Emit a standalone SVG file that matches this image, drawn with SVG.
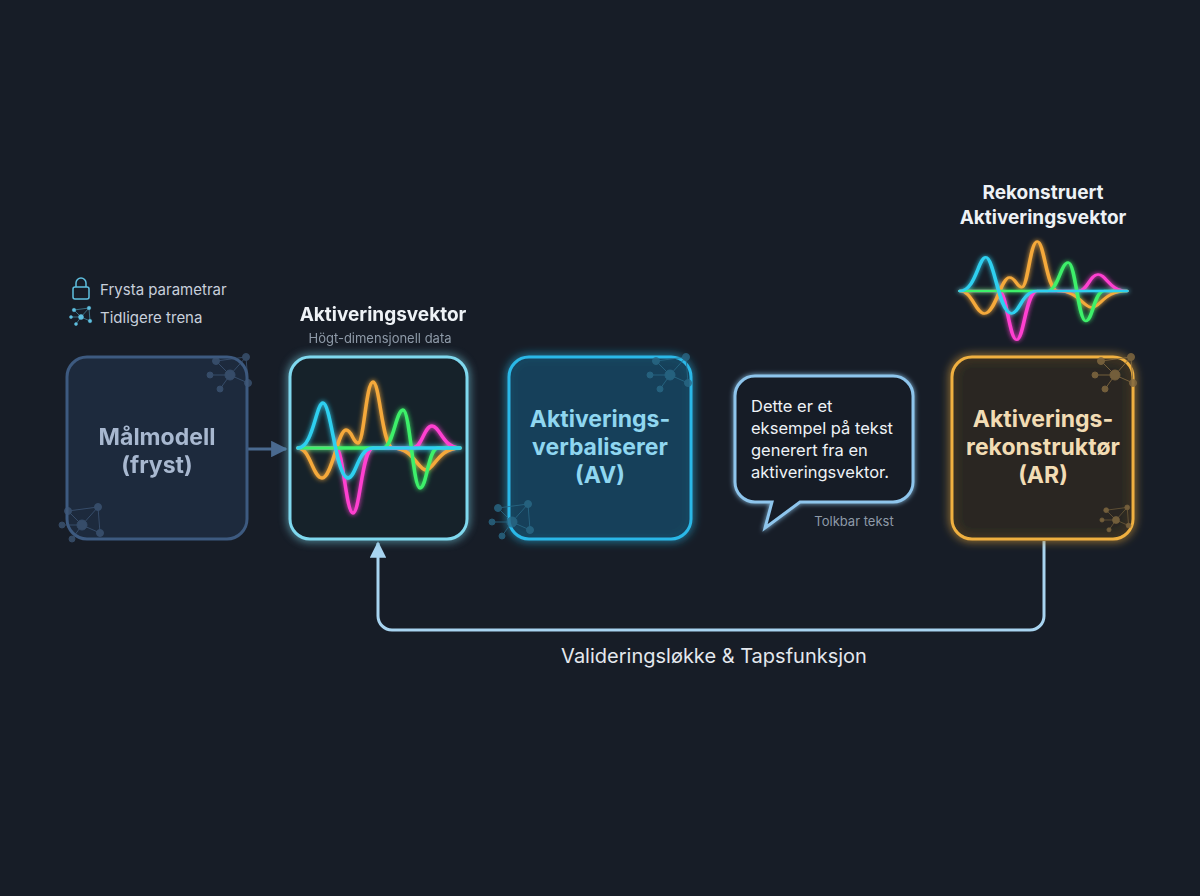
<svg xmlns="http://www.w3.org/2000/svg" width="1200" height="896" viewBox="0 0 1200 896">
<style>
.t{font-family:Inter,"Liberation Sans",sans-serif}
.box{stroke-width:3}
.wave{fill:none;stroke-width:3.5;stroke-linecap:round}
.net line{stroke-width:1.2}
.conn{fill:none;stroke-width:3}
</style>
<defs>
<filter id="glow" x="-30%" y="-30%" width="160%" height="160%"><feGaussianBlur stdDeviation="5" result="b"/><feMerge><feMergeNode in="b"/><feMergeNode in="SourceGraphic"/></feMerge></filter>
<filter id="glow2" x="-30%" y="-30%" width="160%" height="160%"><feGaussianBlur stdDeviation="2.5" result="b"/><feMerge><feMergeNode in="b"/><feMergeNode in="SourceGraphic"/></feMerge></filter>
<marker id="ah" viewBox="0 0 10 10" refX="9" refY="5" markerWidth="5.5" markerHeight="5.5" orient="auto"><path d="M0,0L10,5L0,10z" fill="context-stroke"/></marker>
<g id="w">
<path class="wave" d="M0,0 C12,0 15,30 24,30 C34,30 40,-18 48,-18 C54,-18 55,-5 60,-5 C66,-5 68,-66 75,-66 C82,-66 84,0 95,0 C115,0 120,22 128,22 C136,22 140,0 162,0" style="stroke:#f5a93a"/>
<path class="wave" stroke="#ff3fd0" d="M0,0 L38,0 C45,0 48,65 55,65 C62,65 64,0 75,0 L115,0 C124,0 126,-22 134,-22 C142,-22 145,0 162,0"/>
<path class="wave" stroke="#3ef06a" d="M0,0 L85,0 C95,0 98,-38 105,-38 C112,-38 115,40 122,40 C129,40 130,0 140,0 L162,0"/>
<path class="wave" stroke="#2fd0f0" d="M0,0 C15,0 18,-45 25,-45 C33,-45 38,30 50,30 C58,30 60,0 75,0 L162,0"/>
</g>
<g id="net">
<line x1="0" y1="0" x2="-14" y2="-14"/><line x1="0" y1="0" x2="16" y2="-18"/><line x1="0" y1="0" x2="18" y2="8"/><line x1="0" y1="0" x2="-10" y2="14"/><line x1="-14" y1="-14" x2="16" y2="-18"/><line x1="16" y1="-18" x2="18" y2="8"/><line x1="0" y1="0" x2="-20" y2="0"/>
<circle r="5"/><circle cx="-14" cy="-14" r="3.5"/><circle cx="16" cy="-18" r="3.5"/><circle cx="18" cy="8" r="3.5"/><circle cx="-10" cy="14" r="3"/><circle cx="-20" cy="0" r="3"/>
</g>
</defs>
<rect width="1200" height="896" fill="#171d27"/>

<g id="legend" class="t">
<g fill="none" stroke="#5fc0e0" stroke-width="1.5"><rect x="73" y="287" width="16" height="12" rx="2"/><path d="M76,287 v-4 a5,5 0 0 1 10,0 v4"/></g>
<g transform="translate(81,317) scale(0.5)" fill="#5fc0e0" stroke="#5fc0e0"><use href="#net"/></g>
<text x="100" y="295" font-size="15" fill="#c8d0dc">Frysta parametrar</text>
<text x="100" y="323" font-size="15" fill="#c8d0dc">Tidligere trena</text>
</g>

<g id="connectors">
<g stroke="#4a6a90" class="conn"><path d="M247,449 H286" marker-end="url(#ah)"/></g>
<g stroke="#7fd8ee" class="conn" filter="url(#glow2)"><path d="M467,449 H506" marker-end="url(#ah)"/></g>
<g stroke="#2ab8e8" class="conn" filter="url(#glow2)"><path d="M691,449 H732" marker-end="url(#ah)"/></g>
<g stroke="#8ec5ec" class="conn" filter="url(#glow2)"><path d="M913,449 H949" marker-end="url(#ah)"/></g>
<g stroke="#a8d4f0" class="conn" stroke-width="2.5"><path d="M1044,541 V616 a14,14 0 0 1 -14,14 H392 a14,14 0 0 1 -14,-14 V543" marker-end="url(#ah)"/></g>
<text class="t" x="714" y="663" font-size="20" fill="#e4e8ee" text-anchor="middle">Valideringsløkke &amp; Tapsfunksjon</text>
</g>

<g id="n1">
<rect class="box" x="67" y="357" width="180" height="182" rx="20" fill="#1f2d42" fill-opacity="0.85" stroke="#3d5a80"/>
<g fill="#3f5878" stroke="#3f5878" opacity="0.75"><use href="#net" transform="translate(230,375)"/><use href="#net" transform="translate(82,525)"/></g>
<text class="t" x="157" y="445" font-size="23" font-weight="700" fill="#a8b8d0" text-anchor="middle">Målmodell</text>
<text class="t" x="157" y="473" font-size="23" font-weight="700" fill="#a8b8d0" text-anchor="middle">(fryst)</text>
</g>

<g id="n2">
<text class="t" x="383" y="321" font-size="19" font-weight="700" fill="#eef2f6" text-anchor="middle">Aktiveringsvektor</text>
<text class="t" x="380" y="343" font-size="13" fill="#8e9aa8" text-anchor="middle">Högt-dimensjonell data</text>
<rect class="box" x="290" y="357" width="177" height="182" rx="20" fill="#18222c" stroke="#7fd8ee" filter="url(#glow)"/>
<g transform="translate(298,448)" filter="url(#glow2)"><use href="#w"/></g>
</g>

<g id="n3">
<rect class="box" x="509" y="357" width="182" height="182" rx="20" fill="#17405a" fill-opacity="0.9" stroke="#2ab8e8" filter="url(#glow)"/>
<g fill="#2a6a88" stroke="#2a6a88" opacity="0.8"><use href="#net" transform="translate(670,375)"/><use href="#net" transform="translate(512,522)"/></g>
<text class="t" x="600" y="427" font-size="23" font-weight="700" fill="#8fd6f0" text-anchor="middle">Aktiverings-</text>
<text class="t" x="600" y="455" font-size="23" font-weight="700" fill="#8fd6f0" text-anchor="middle">verbaliserer</text>
<text class="t" x="600" y="483" font-size="23" font-weight="700" fill="#8fd6f0" text-anchor="middle">(AV)</text>
</g>

<g id="n4">
<path d="M755,376 H893 a20,20 0 0 1 20,20 V482 a20,20 0 0 1 -20,20 H800 L765,528 L772,502 H755 a20,20 0 0 1 -20,-20 V396 a20,20 0 0 1 20,-20 z" fill="#161d28" stroke="#8ec5ec" stroke-width="3" filter="url(#glow2)"/>
<g class="t" font-size="16.5" fill="#eef2f6"><text x="751" y="412">Dette er et</text><text x="751" y="434">eksempel på tekst</text><text x="751" y="456">generert fra en</text><text x="751" y="478">aktiveringsvektor.</text></g>
<text class="t" x="854" y="526" font-size="13" fill="#8e9aa8" text-anchor="middle">Tolkbar tekst</text>
</g>

<g id="n5">
<text class="t" x="1043" y="199" font-size="19" font-weight="700" fill="#eef2f6" text-anchor="middle">Rekonstruert</text>
<text class="t" x="1043" y="224" font-size="19" font-weight="700" fill="#eef2f6" text-anchor="middle">Aktiveringsvektor</text>
<g transform="translate(960,291) scale(1.03,0.75)" filter="url(#glow2)"><use href="#w"/></g>
<rect class="box" x="952" y="357" width="181" height="182" rx="20" fill="#2a2820" fill-opacity="0.9" stroke="#f0b040" filter="url(#glow)"/>
<g fill="#806840" stroke="#806840" opacity="0.85"><use href="#net" transform="translate(1115,375)"/><use href="#net" transform="translate(1116,520) scale(0.7)"/></g>
<text class="t" x="1043" y="427" font-size="23" font-weight="700" fill="#f2dcb4" text-anchor="middle">Aktiverings-</text>
<text class="t" x="1043" y="455" font-size="23" font-weight="700" fill="#f2dcb4" text-anchor="middle">rekonstruktør</text>
<text class="t" x="1043" y="483" font-size="23" font-weight="700" fill="#f2dcb4" text-anchor="middle">(AR)</text>
</g>
</svg>
